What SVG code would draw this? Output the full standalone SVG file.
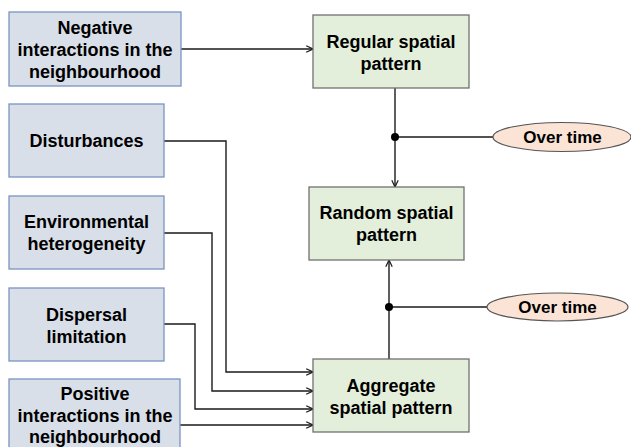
<svg xmlns="http://www.w3.org/2000/svg" width="631" height="447" viewBox="0 0 631 447">
<style>
.src{fill:#d9dfe9;stroke:#7a94c2;stroke-width:1.3}
.pat{fill:#e3efda;stroke:#707070;stroke-width:1.3}
.time{fill:#fbe4d5;stroke:#555;stroke-width:1.2}
text{font-family:"Liberation Sans",Arial,sans-serif;font-weight:bold;font-size:18px;fill:#000;text-anchor:middle}
.t2{font-size:17px}
.c{fill:none;stroke:#1a1a1a;stroke-width:1.4}
</style>
<defs>
<marker id="ah" viewBox="0 0 10 10" refX="9.5" refY="5" markerWidth="8" markerHeight="8" markerUnits="userSpaceOnUse" orient="auto">
<path d="M1,1 L9.5,5 L1,9" fill="none" stroke="#1a1a1a" stroke-width="1.5"/>
</marker>
</defs>
<rect width="631" height="447" fill="#fff"/>
<g id="connectors">
<path class="c" d="M181,49 H313" marker-end="url(#ah)"/>
<path class="c" d="M395,88 V187" marker-end="url(#ah)"/>
<path class="c" d="M395,137 H493"/>
<path class="c" d="M389,359 V260" marker-end="url(#ah)"/>
<path class="c" d="M389,307 H487"/>
<path class="c" d="M164,141 H226 V372 H313" marker-end="url(#ah)"/>
<path class="c" d="M164,233 H212 V391 H313" marker-end="url(#ah)"/>
<path class="c" d="M164,324 H195 V409 H313" marker-end="url(#ah)"/>
<path class="c" d="M180,425 H313" marker-end="url(#ah)"/>
<circle cx="395" cy="137" r="4" fill="#000"/>
<circle cx="389" cy="307" r="4" fill="#000"/>
</g>
<g id="negative">
<rect class="src" x="9" y="12" width="172" height="74"/>
<text x="95" y="34">Negative</text>
<text x="95" y="56">interactions in the</text>
<text x="95" y="78">neighbourhood</text>
</g>
<g id="disturbances">
<rect class="src" x="9" y="104" width="155" height="73"/>
<text x="86.5" y="147">Disturbances</text>
</g>
<g id="environmental">
<rect class="src" x="9" y="196" width="155" height="73"/>
<text x="86.5" y="228">Environmental</text>
<text x="86.5" y="250">heterogeneity</text>
</g>
<g id="dispersal">
<rect class="src" x="9" y="288" width="155" height="73"/>
<text x="86.5" y="321">Dispersal</text>
<text x="86.5" y="343">limitation</text>
</g>
<g id="positive">
<rect class="src" x="9" y="379" width="171" height="74"/>
<text x="95" y="400">Positive</text>
<text x="95" y="422">interactions in the</text>
<text x="95" y="443">neighbourhood</text>
</g>
<g id="regular">
<rect class="pat" x="313" y="15" width="156" height="73"/>
<text x="391" y="48">Regular spatial</text>
<text x="391" y="70">pattern</text>
</g>
<g id="random">
<rect class="pat" x="309" y="187" width="155" height="73"/>
<text x="386.5" y="219">Random spatial</text>
<text x="386.5" y="241">pattern</text>
</g>
<g id="aggregate">
<rect class="pat" x="313" y="359" width="156" height="73"/>
<text x="391" y="392">Aggregate</text>
<text x="391" y="414">spatial pattern</text>
</g>
<g id="overtime1">
<ellipse class="time" cx="562" cy="137" rx="69" ry="14.5"/>
<text class="t2" x="562.5" y="143">Over time</text>
</g>
<g id="overtime2">
<ellipse class="time" cx="557.5" cy="307" rx="70.5" ry="14"/>
<text class="t2" x="557.5" y="313">Over time</text>
</g>
</svg>
